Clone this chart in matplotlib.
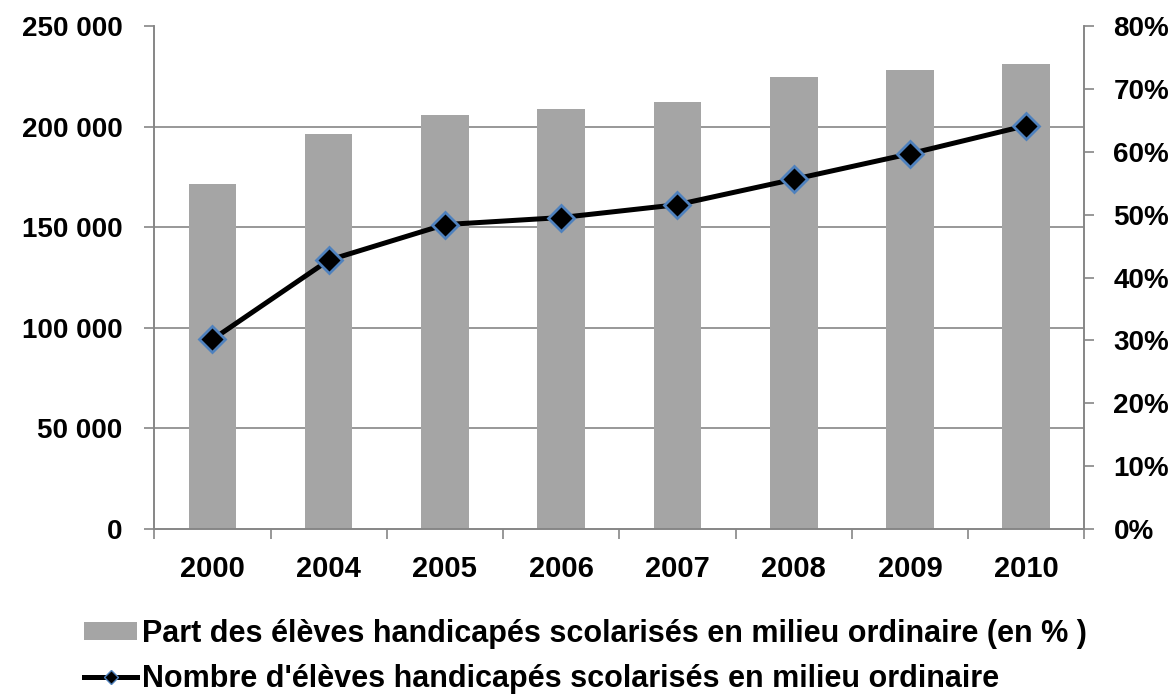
import numpy as np
import matplotlib.pyplot as plt
from matplotlib.lines import Line2D
from matplotlib.ticker import FuncFormatter, PercentFormatter

years = ['2000', '2004', '2005', '2006', '2007', '2008', '2009', '2010']
part_pct = [54.8, 62.8, 65.8, 66.8, 67.9, 71.9, 73.0, 73.9]
nombre = [94200, 133600, 151300, 154800, 161200, 173800, 186500, 200500]

bar_label = "Part des élèves handicapés scolarisés en milieu ordinaire (en % )"
line_label = "Nombre d'élèves handicapés scolarisés en milieu ordinaire"

plt.rcParams['font.family'] = ['Liberation Sans', 'DejaVu Sans']
grey = '#868686'

fig = plt.figure(figsize=(11.73, 6.95), dpi=100)
ax_bar = fig.add_axes([0.1315, 0.2388, 0.7929, 0.7238])
ax_line = ax_bar.twinx()

x = np.arange(len(years))

# bars (percent, right axis) below, line (count, left axis) above
bars = ax_bar.bar(x, part_pct, width=0.41, color='#a5a5a5', zorder=2)
ax_bar.set_ylim(0, 80)
ax_bar.yaxis.tick_right()
ax_bar.set_yticks(np.arange(0, 81, 10))
ax_bar.yaxis.set_major_formatter(PercentFormatter(decimals=0))
# gridlines matching the left scale (every 50 000)
ax_bar.set_yticks(np.linspace(0, 80, 6), minor=True)
ax_bar.yaxis.grid(True, which='minor', color=grey, linewidth=1.2, zorder=0)
ax_bar.tick_params(axis='y', which='minor', length=0)
ax_bar.set_axisbelow(True)

ax_line.plot(x, nombre, color='black', linewidth=3.6, marker='D',
             markersize=13, markerfacecolor='black',
             markeredgecolor='#4f81bd', markeredgewidth=2, zorder=3)
ax_line.set_ylim(0, 250000)
ax_line.yaxis.tick_left()
ax_line.set_yticks(np.arange(0, 250001, 50000))
ax_line.yaxis.set_major_formatter(FuncFormatter(lambda v, p: f"{v:,.0f}".replace(",", " ")))

ax_bar.set_xlim(-0.5, len(years) - 0.5)
ax_bar.set_xticks(x)
ax_bar.set_xticklabels(years)
ax_bar.set_xticks(np.arange(-0.5, len(years)), minor=True)
ax_bar.tick_params(axis='x', which='major', length=0, pad=19)
ax_bar.tick_params(axis='x', which='minor', length=7.5, color=grey, width=1.2)

for a in (ax_bar, ax_line):
    a.spines['top'].set_visible(False)
    for s in ('left', 'right', 'bottom'):
        a.spines[s].set_color(grey)
        a.spines[s].set_linewidth(1.2)
    a.tick_params(axis='y', which='major', length=7, color=grey, width=1.2)
    for lab in a.get_yticklabels():
        lab.set_fontsize(20)
        lab.set_fontweight('bold')
    for lab in a.get_xticklabels():
        lab.set_fontsize(21)
        lab.set_fontweight('bold')
ax_line.tick_params(axis='y', pad=16)
ax_bar.tick_params(axis='y', which='major', pad=14)

ax_line.patch.set_visible(False)

# legend proxy for the line, with a smaller marker as in the original
line_key = Line2D([], [], color='black', linewidth=3.6, marker='D', markersize=7,
                  markerfacecolor='black', markeredgecolor='#4f81bd', markeredgewidth=1)
fig.legend([bars, line_key], [bar_label, line_label], loc='upper left',
           bbox_to_anchor=(84 / 1173, 0.11), frameon=False, borderpad=0,
           borderaxespad=0, handlelength=1.75, handleheight=0.52,
           handletextpad=0.15, labelspacing=0.5,
           prop={'weight': 'bold', 'size': 22})

fig.savefig('out.png', dpi=100)
